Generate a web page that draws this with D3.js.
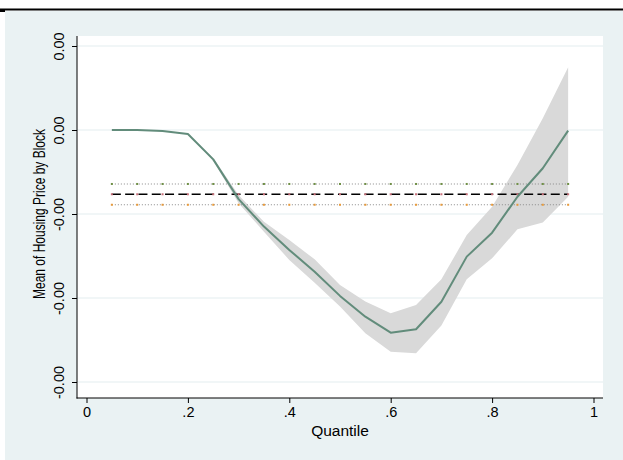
<!DOCTYPE html>
<html>
<head>
<meta charset="utf-8">
<script src="https://cdn.jsdelivr.net/npm/d3@7/dist/d3.min.js"></script>
<style>
  html, body { margin: 0; padding: 0; background: #ffffff; }
  svg { display: block; }
  text { font-family: "Liberation Sans", Arial, Helvetica, sans-serif; fill: #000; }
</style>
</head>
<body>
<svg id="chart" width="623" height="460"></svg>
<script>
// Quantiles at which the regression was estimated
const quantiles = [0.05, 0.10, 0.15, 0.20, 0.25, 0.30, 0.35, 0.40, 0.45, 0.50,
                   0.55, 0.60, 0.65, 0.70, 0.75, 0.80, 0.85, 0.90, 0.95];

// Quantile regression coefficient and its confidence bounds
const coef = [0, 0, -0.05e-4, -0.19e-4, -1.40e-4, -3.29e-4, -4.60e-4, -5.71e-4, -6.75e-4, -7.90e-4,
              -8.89e-4, -9.65e-4, -9.49e-4, -8.18e-4, -6.03e-4, -4.89e-4, -3.18e-4, -1.82e-4, -0.03e-4];
const ciUpper = [0, 0, -0.05e-4, -0.19e-4, -1.33e-4, -3.10e-4, -4.37e-4, -5.24e-4, -6.16e-4, -7.38e-4,
                 -8.17e-4, -8.73e-4, -8.33e-4, -7.11e-4, -5.00e-4, -3.65e-4, -1.67e-4, 0.56e-4, 2.99e-4];
const ciLower = [0, 0, -0.05e-4, -0.19e-4, -1.48e-4, -3.49e-4, -4.84e-4, -6.19e-4, -7.27e-4, -8.41e-4,
                 -9.68e-4, -10.56e-4, -10.63e-4, -9.31e-4, -7.11e-4, -6.11e-4, -4.73e-4, -4.41e-4, -3.18e-4];

// OLS coefficient with its confidence interval (constant across quantiles)
const olsCoef = -3.06e-4;
const olsUpper = -2.57e-4;
const olsLower = -3.56e-4;

// Axis ticks and titles
const yTicks = [4e-4, 0, -4e-4, -8e-4, -12e-4];
const xTicks = [0, 0.2, 0.4, 0.6, 0.8, 1];
const xTitle = "Quantile";
const yTitle = "Mean of Housing Price by Block";

const svg = d3.select("#chart");
const W = 623, H = 460;

// Plot region box
const plot = { left: 77, right: 603, top: 36, bottom: 398 };

// Scales
const x = d3.scaleLinear().domain([0, 1]).range([86.5, 593.5]);
const y = d3.scaleLinear().domain([4e-4, -12e-4]).range([46, 382]);

// Page backgrounds and header rule
svg.append("rect").attr("width", W).attr("height", H).attr("fill", "#ffffff");
svg.append("rect").attr("x", 5).attr("y", 11).attr("width", W - 5).attr("height", H - 11)
  .attr("fill", "#eaf2f3");
svg.append("rect").attr("x", 0).attr("y", 8.5).attr("width", W).attr("height", 2).attr("fill", "#000");
svg.append("rect").attr("x", 0).attr("y", 9).attr("width", 5).attr("height", 3).attr("fill", "#000");

// Plot region
svg.append("rect")
  .attr("x", plot.left).attr("y", plot.top)
  .attr("width", plot.right - plot.left).attr("height", plot.bottom - plot.top)
  .attr("fill", "#ffffff");

// Horizontal grid lines
svg.append("g").selectAll("line").data(yTicks).join("line")
  .attr("x1", plot.left).attr("x2", plot.right)
  .attr("y1", d => y(d)).attr("y2", d => y(d))
  .attr("stroke", "#e4eef0").attr("stroke-width", 1.2);

// Confidence band
const area = d3.area()
  .x((d, i) => x(quantiles[i]))
  .y0((d, i) => y(ciLower[i]))
  .y1((d, i) => y(ciUpper[i]));
svg.append("path").datum(quantiles).attr("d", area).attr("fill", "#d9d9d9");

// OLS lines with small markers at each quantile
const qExtent = d3.extent(quantiles);
const olsLines = [
  { v: olsUpper, dash: "1,2", stroke: "#8a8a8a", width: 1.1, marker: "#6f8f45" },
  { v: olsCoef,  dash: "9,4.3", stroke: "#000000", width: 1.6, marker: "#c8707a" },
  { v: olsLower, dash: "1,2", stroke: "#8a8a8a", width: 1.1, marker: "#e89a3a" }
];
olsLines.forEach(o => {
  svg.append("line")
    .attr("x1", x(qExtent[0])).attr("x2", x(qExtent[1]))
    .attr("y1", y(o.v)).attr("y2", y(o.v))
    .attr("stroke", o.stroke).attr("stroke-width", o.width)
    .attr("stroke-dasharray", o.dash);
  svg.append("g").selectAll("rect").data(quantiles).join("rect")
    .attr("x", d => x(d) - 1).attr("y", y(o.v) - 1)
    .attr("width", 2).attr("height", 2)
    .attr("fill", o.marker);
});

// Coefficient line
const line = d3.line()
  .x((d, i) => x(quantiles[i]))
  .y((d, i) => y(coef[i]));
svg.append("path").datum(quantiles).attr("d", line)
  .attr("fill", "none").attr("stroke", "#628c7b").attr("stroke-width", 2)
  .attr("stroke-linejoin", "round");

// Axes
const fmtY = v => (v < 0 ? "-" : "") + Math.abs(v).toFixed(2);
const fmtX = v => (v === 0 || v === 1) ? String(v) : String(v).replace(/^0/, "");

const yAxis = svg.append("g").attr("transform", `translate(${plot.left},0)`)
  .call(d3.axisLeft(y).tickValues(yTicks).tickSize(5).tickFormat(fmtY));
yAxis.select(".domain").remove();
yAxis.attr("font-size", null).attr("font-family", null);
yAxis.selectAll(".tick line").attr("stroke", "#000");
yAxis.selectAll(".tick text")
  .attr("x", 0).attr("y", -13).attr("dy", null)
  .attr("transform", "rotate(-90)")
  .attr("text-anchor", "middle")
  .style("font-size", "14.5px");

const xAxis = svg.append("g").attr("transform", `translate(0,${plot.bottom})`)
  .call(d3.axisBottom(x).tickValues(xTicks).tickSize(5).tickFormat(fmtX));
xAxis.select(".domain").remove();
xAxis.attr("font-size", null).attr("font-family", null);
xAxis.selectAll(".tick line").attr("stroke", "#000");
xAxis.selectAll(".tick text")
  .attr("y", 19).attr("dy", null)
  .style("font-size", "14.5px");

// Axis lines along the plot region edges
svg.append("line").attr("x1", plot.left).attr("x2", plot.left)
  .attr("y1", plot.top).attr("y2", plot.bottom + 0.5)
  .attr("stroke", "#000").attr("stroke-width", 1);
svg.append("line").attr("x1", plot.left - 0.5).attr("x2", plot.right)
  .attr("y1", plot.bottom).attr("y2", plot.bottom)
  .attr("stroke", "#000").attr("stroke-width", 1);

// Axis titles
svg.append("text")
  .attr("x", (plot.left + plot.right) / 2).attr("y", 436)
  .attr("text-anchor", "middle").style("font-size", "15.5px")
  .text(xTitle);

svg.append("text")
  .attr("transform", `translate(45,${(y(yTicks[0]) + y(yTicks[yTicks.length - 1])) / 2}) rotate(-90)`)
  .attr("text-anchor", "middle").style("font-size", "16px")
  .attr("textLength", 170).attr("lengthAdjust", "spacingAndGlyphs")
  .text(yTitle);
</script>
</body>
</html>
